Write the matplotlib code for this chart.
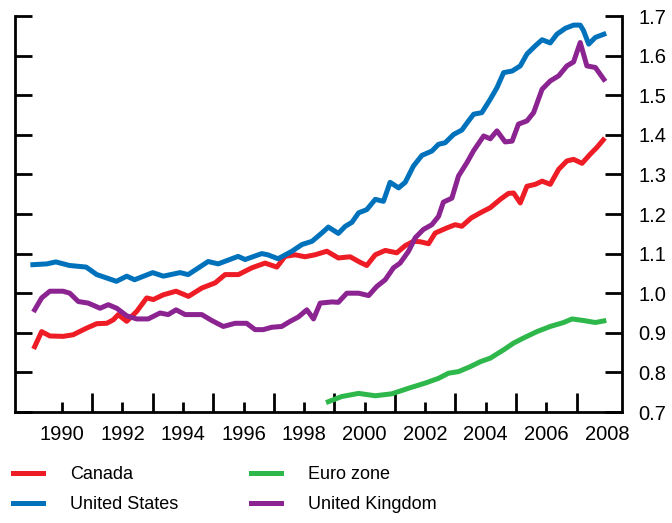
import matplotlib
matplotlib.use("Agg")
import matplotlib.pyplot as plt

plt.rcParams['font.family'] = ['Liberation Sans', 'DejaVu Sans']

# values (decimal year, index)
canada_x = [1989.1, 1989.33, 1989.6, 1990.04, 1990.37, 1990.82, 1991.15, 1991.48, 1991.7, 1991.86,
            1992.14, 1992.47, 1992.8, 1993.02, 1993.35, 1993.77, 1994.18, 1994.62, 1995.06, 1995.39,
            1995.83, 1996.27, 1996.71, 1997.1, 1997.37, 1997.7, 1998.03, 1998.36, 1998.75, 1999.13,
            1999.52, 1999.85, 2000.07, 2000.35, 2000.68, 2001.06, 2001.34, 2001.61, 2001.83, 2002.11,
            2002.33, 2002.72, 2002.99, 2003.21, 2003.52, 2003.82, 2004.15, 2004.48, 2004.75, 2004.92,
            2005.14, 2005.36, 2005.64, 2005.86, 2006.13, 2006.41, 2006.68, 2006.9, 2007.18, 2007.45,
            2007.67, 2007.88]
canada = [0.865, 0.903, 0.892, 0.891, 0.895, 0.912, 0.923, 0.924, 0.933, 0.946,
          0.929, 0.954, 0.988, 0.984, 0.996, 1.005, 0.992, 1.013, 1.026, 1.047,
          1.047, 1.064, 1.076, 1.066, 1.093, 1.097, 1.092, 1.097, 1.106, 1.089,
          1.092, 1.078, 1.070, 1.097, 1.108, 1.102, 1.120, 1.131, 1.130, 1.125,
          1.152, 1.165, 1.173, 1.169, 1.190, 1.203, 1.216, 1.237, 1.252, 1.253,
          1.228, 1.270, 1.275, 1.283, 1.275, 1.313, 1.334, 1.338, 1.328, 1.351,
          1.368, 1.387]

us_x = [1989.04, 1989.5, 1989.8, 1990.25, 1990.8, 1991.15, 1991.8, 1992.14, 1992.4, 1993.0,
        1993.35, 1993.9, 1994.17, 1994.83, 1995.16, 1995.82, 1996.05, 1996.6, 1996.8, 1997.14,
        1997.6, 1997.93, 1998.26, 1998.6, 1998.8, 1999.13, 1999.36, 1999.58, 1999.8, 2000.07,
        2000.35, 2000.62, 2000.84, 2001.12, 2001.34, 2001.61, 2001.89, 2002.22, 2002.44, 2002.66,
        2002.94, 2003.21, 2003.43, 2003.6, 2003.87, 2004.15, 2004.37, 2004.59, 2004.87, 2005.14,
        2005.36, 2005.64, 2005.86, 2006.13, 2006.35, 2006.63, 2006.9, 2007.12, 2007.23, 2007.4,
        2007.62, 2007.9]
us = [1.072, 1.074, 1.079, 1.070, 1.066, 1.047, 1.030, 1.043, 1.034, 1.052,
      1.043, 1.052, 1.047, 1.080, 1.074, 1.093, 1.085, 1.100, 1.097, 1.087,
      1.106, 1.123, 1.131, 1.153, 1.167, 1.151, 1.169, 1.179, 1.203, 1.211,
      1.237, 1.232, 1.280, 1.266, 1.280, 1.321, 1.348, 1.359, 1.376, 1.380,
      1.401, 1.412, 1.435, 1.452, 1.456, 1.490, 1.519, 1.557, 1.561, 1.574,
      1.604, 1.625, 1.640, 1.632, 1.654, 1.669, 1.677, 1.677, 1.663, 1.629,
      1.646, 1.654]

euro_x = [1998.8, 1999.24, 1999.8, 2000.35, 2000.9, 2001.45, 2002.0, 2002.44, 2002.77, 2003.1,
          2003.5, 2003.82, 2004.15, 2004.59, 2004.92, 2005.25, 2005.69, 2006.13, 2006.57, 2006.85,
          2007.23, 2007.62, 2007.9]
euro = [0.726, 0.739, 0.747, 0.741, 0.746, 0.760, 0.773, 0.785, 0.798, 0.802,
        0.815, 0.827, 0.836, 0.857, 0.874, 0.887, 0.903, 0.916, 0.926, 0.935,
        0.931, 0.926, 0.930]

uk_x = [1989.1, 1989.33, 1989.6, 1990.04, 1990.26, 1990.54, 1990.87, 1991.26, 1991.53, 1991.81,
        1992.14, 1992.47, 1992.85, 1993.24, 1993.51, 1993.77, 1994.07, 1994.62, 1994.95, 1995.33,
        1995.72, 1996.1, 1996.38, 1996.65, 1996.93, 1997.26, 1997.54, 1997.81, 1998.09, 1998.31,
        1998.53, 1998.92, 1999.13, 1999.41, 1999.8, 2000.13, 2000.4, 2000.68, 2000.95, 2001.17,
        2001.45, 2001.67, 2001.94, 2002.22, 2002.44, 2002.6, 2002.88, 2003.1, 2003.38, 2003.6,
        2003.93, 2004.15, 2004.37, 2004.64, 2004.87, 2005.08, 2005.36, 2005.58, 2005.86, 2006.13,
        2006.41, 2006.68, 2006.9, 2007.12, 2007.34, 2007.62, 2007.9]
uk = [0.958, 0.988, 1.005, 1.005, 1.000, 0.979, 0.975, 0.962, 0.971, 0.962,
      0.943, 0.935, 0.935, 0.950, 0.946, 0.958, 0.946, 0.946, 0.931, 0.916,
      0.924, 0.924, 0.908, 0.908, 0.914, 0.916, 0.929, 0.940, 0.958, 0.935,
      0.975, 0.978, 0.977, 1.000, 1.000, 0.994, 1.017, 1.034, 1.064, 1.076,
      1.106, 1.140, 1.161, 1.173, 1.194, 1.230, 1.240, 1.296, 1.330, 1.360,
      1.397, 1.390, 1.410, 1.382, 1.384, 1.427, 1.435, 1.456, 1.515, 1.536,
      1.549, 1.574, 1.584, 1.633, 1.574, 1.570, 1.540]

year_ticks = list(range(1990, 2009, 2))
odd_years = list(range(1991, 2008, 2))
y_ticks = [0.7, 0.8, 0.9, 1.0, 1.1, 1.2, 1.3, 1.4, 1.5, 1.6, 1.7]

fig = plt.figure(figsize=(6.72, 5.23), dpi=100)
ax = fig.add_axes([15 / 672, 111 / 523, 607 / 672, 396 / 523])

lw = 3.6
ax.plot(canada_x, canada, color='#ee1c25', lw=lw, label='Canada', solid_joinstyle='round')
ax.plot(us_x, us, color='#0072bc', lw=lw, label='United States', solid_joinstyle='round')
ax.plot(euro_x, euro, color='#2eb84b', lw=lw, label='Euro zone', solid_joinstyle='round')
ax.plot(uk_x, uk, color='#8b2391', lw=lw, label='United Kingdom', solid_joinstyle='round')

ax.set_xlim(1988.45, 2008.5)
ax.set_ylim(0.7, 1.7)

for side in ['left', 'right', 'bottom']:
    ax.spines[side].set_linewidth(2)
ax.spines['top'].set_visible(False)

ax.set_xticks(year_ticks)
ax.set_xticklabels([str(y) for y in year_ticks])
ax.set_xticks(odd_years, minor=True)
ax.tick_params(axis='x', which='major', direction='in', length=7, width=2,
               labelsize=14.5, pad=9)
ax.tick_params(axis='x', which='minor', direction='in', length=14, width=2)
ax.xaxis.get_major_ticks()[-1].tick1line.set_visible(False)

ax.set_yticks(y_ticks)
ax.set_yticklabels([f'{v:.1f}' for v in y_ticks])
ax.tick_params(axis='y', direction='in', length=12, width=2, left=True, right=True,
               labelleft=False, labelright=True, labelsize=14.5, pad=12)

fig.legend(loc='upper left', bbox_to_anchor=(13 / 672, 1 - 466 / 523), ncol=2,
           frameon=False, fontsize=13, handlelength=1.66, handletextpad=1.5,
           columnspacing=4.0, labelspacing=0.72, borderpad=0, borderaxespad=0)

fig.savefig('out.png', dpi=100)
